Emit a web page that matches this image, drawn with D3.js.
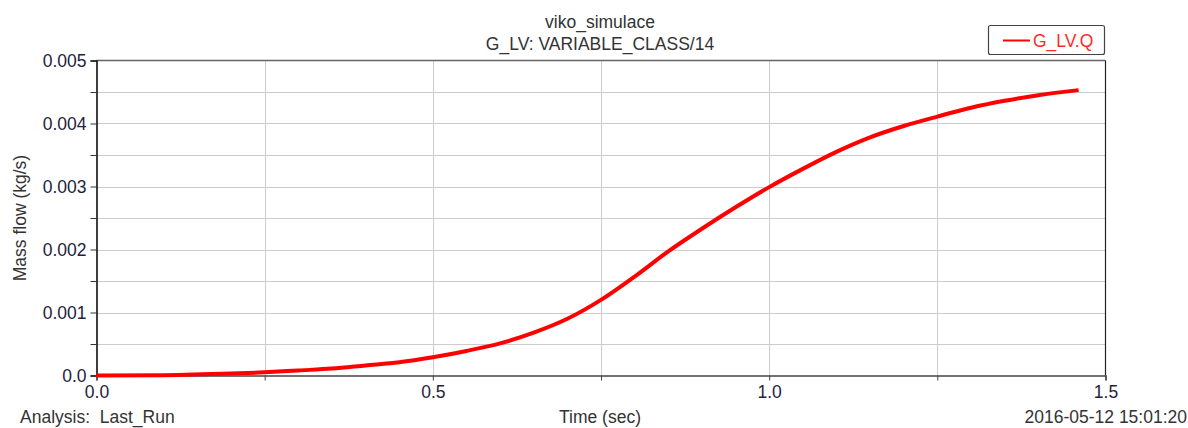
<!DOCTYPE html>
<html>
<head>
<meta charset="utf-8">
<script src="https://cdn.jsdelivr.net/npm/d3@7"></script>
<style>
  html, body { margin: 0; padding: 0; background: #fff; }
  svg text { font-family: "Liberation Sans", Arial, sans-serif; }
</style>
</head>
<body>
<svg id="chart" width="1188" height="428"></svg>
<script>
// Simulated mass flow G_LV.Q over time
const timeValues = [0.0, 0.1, 0.2, 0.25, 0.3, 0.35, 0.4, 0.45, 0.5, 0.55, 0.6, 0.65, 0.7, 0.75, 0.8, 0.85, 0.9, 0.95, 1.0, 1.05, 1.1, 1.15, 1.2, 1.25, 1.3, 1.35, 1.4, 1.46];
const flowValues = [0.0, 0.000005, 0.00003, 0.00005, 0.00008, 0.00011, 0.00016, 0.00021, 0.00029, 0.00039, 0.00051, 0.00068, 0.0009, 0.0012, 0.00157, 0.00197, 0.00233, 0.00267, 0.00299, 0.00328, 0.00355, 0.00378, 0.00396, 0.00411, 0.00425, 0.00436, 0.00445, 0.00453];

const xMajorTicks = [0.0, 0.5, 1.0, 1.5];
const xGridTicks = [0.25, 0.5, 0.75, 1.0, 1.25];
const xAllTicks = [0.0, 0.25, 0.5, 0.75, 1.0, 1.25, 1.5];
const yMajorTicks = [0.0, 0.001, 0.002, 0.003, 0.004, 0.005];
const yTickLabels = ["0.0", "0.001", "0.002", "0.003", "0.004", "0.005"];
const yGridTicks = [0.0005, 0.001, 0.0015, 0.002, 0.0025, 0.003, 0.0035, 0.004, 0.0045];
const yAllTicks = [0.0, 0.0005, 0.001, 0.0015, 0.002, 0.0025, 0.003, 0.0035, 0.004, 0.0045, 0.005];

const titleLines = ["viko_simulace", "G_LV: VARIABLE_CLASS/14"];
const seriesName = "G_LV.Q";
const xLabel = "Time (sec)";
const yLabel = "Mass flow (kg/s)";
const footLeft = "Analysis:  Last_Run";
const footRight = "2016-05-12 15:01:20";

const svg = d3.select("#chart");
const plot = { left: 96.5, right: 1105.5, top: 60.5, bottom: 375.5 };
const textColor = "#1e2340";
const fs = 17.5;

const x = d3.scaleLinear().domain([0, 1.5]).range([plot.left, plot.right]);
const y = d3.scaleLinear().domain([0, 0.005]).range([plot.bottom, plot.top]);

// grid
const grid = svg.append("g");
grid.selectAll("line.v").data(xGridTicks).join("line")
  .attr("x1", d => Math.round(x(d)) + 0.5).attr("x2", d => Math.round(x(d)) + 0.5)
  .attr("y1", plot.top).attr("y2", plot.bottom)
  .attr("stroke", "#cccccc").attr("stroke-width", 1);
grid.selectAll("line.h").data(yGridTicks).join("line")
  .attr("y1", d => Math.round(y(d)) + 0.5).attr("y2", d => Math.round(y(d)) + 0.5)
  .attr("x1", plot.left).attr("x2", plot.right)
  .attr("stroke", "#cccccc").attr("stroke-width", 1);

// frame
svg.append("line").attr("x1", plot.left).attr("x2", plot.right).attr("y1", plot.top).attr("y2", plot.top)
  .attr("stroke", "#666").attr("stroke-width", 1.5);
svg.append("line").attr("x1", plot.right).attr("x2", plot.right).attr("y1", plot.top).attr("y2", plot.bottom)
  .attr("stroke", "#222").attr("stroke-width", 1.2);

// axes
const yAxis = d3.axisLeft(y).tickValues(yAllTicks).tickSize(6).tickPadding(4)
  .tickFormat(d => { const i = yMajorTicks.findIndex(v => Math.abs(v - d) < 1e-9); return i >= 0 ? yTickLabels[i] : ""; });
const gy = svg.append("g").attr("transform", `translate(${plot.left},0)`).call(yAxis);
gy.select(".domain").attr("stroke", "#000").attr("stroke-width", 1.5);
gy.selectAll(".tick line").attr("stroke", "#333");
gy.selectAll(".tick text").attr("font-size", fs).attr("fill", textColor)
  .attr("font-family", "'Liberation Sans', Arial, sans-serif");

const xAxis = d3.axisBottom(x).tickValues(xAllTicks).tickSize(5).tickPadding(5)
  .tickFormat(d => xMajorTicks.some(v => Math.abs(v - d) < 1e-9) ? d3.format(".1f")(d) : "");
const gx = svg.append("g").attr("transform", `translate(0,${plot.bottom})`).call(xAxis);
gx.select(".domain").attr("stroke", "#444").attr("stroke-width", 1.5);
gx.selectAll(".tick line").attr("stroke", "#444");
gx.selectAll(".tick text").attr("font-size", fs).attr("fill", textColor)
  .attr("font-family", "'Liberation Sans', Arial, sans-serif");

// data line
const data = timeValues.map((t, i) => ({ t, v: flowValues[i] }));
svg.append("path").datum(data)
  .attr("fill", "none").attr("stroke", "#ff0000").attr("stroke-width", 4)
  .attr("stroke-linejoin", "round")
  .attr("d", d3.line().x(d => x(d.t)).y(d => y(d.v)).curve(d3.curveMonotoneX));

// titles
svg.append("g").selectAll("text").data(titleLines).join("text")
  .attr("x", 600).attr("y", (d, i) => 28 + i * 22)
  .attr("text-anchor", "middle").attr("font-size", fs).attr("fill", "#333")
  .text(d => d);

// legend
const lg = svg.append("g");
lg.append("rect").attr("x", 988.5).attr("y", 25.5).attr("width", 116).attr("height", 29)
  .attr("rx", 2).attr("fill", "#fff").attr("stroke", "#444").attr("stroke-width", 1.2);
lg.append("line").attr("x1", 1003).attr("x2", 1030).attr("y1", 40.5).attr("y2", 40.5)
  .attr("stroke", "#ff0000").attr("stroke-width", 2);
lg.append("text").attr("x", 1033).attr("y", 47).attr("font-size", fs).attr("fill", "#ff2a2a").text(seriesName);

// axis labels and footer
svg.append("text").attr("transform", "translate(26,218) rotate(-90)")
  .attr("text-anchor", "middle").attr("font-size", fs).attr("fill", "#333").text(yLabel);
svg.append("text").attr("x", 600).attr("y", 423).attr("text-anchor", "middle")
  .attr("font-size", fs).attr("fill", "#333").text(xLabel);
svg.append("text").attr("x", 20).attr("y", 423).attr("font-size", fs).attr("fill", "#333")
  .attr("xml:space", "preserve").style("white-space", "pre").text(footLeft);
svg.append("text").attr("x", 1187).attr("y", 423).attr("text-anchor", "end")
  .attr("font-size", fs).attr("fill", "#333").text(footRight);
</script>
</body>
</html>
